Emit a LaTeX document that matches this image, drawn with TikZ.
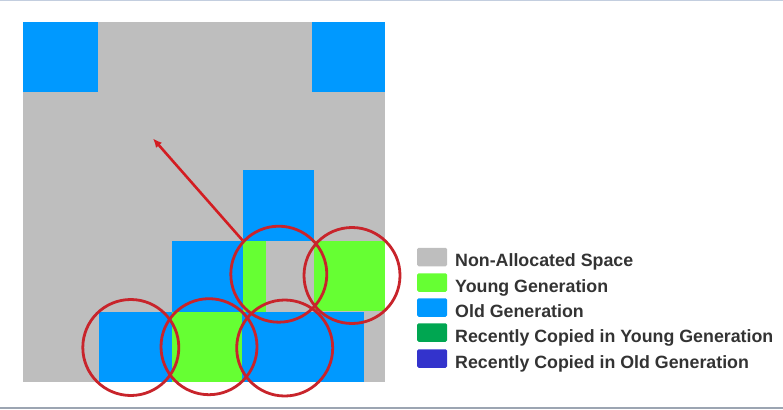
\documentclass[tikz,border=0pt]{standalone}
\usepackage{fontspec}
\setmainfont{Liberation Sans}
\usetikzlibrary{arrows.meta}
\definecolor{gris}{HTML}{BEBEBE}
\definecolor{bleu}{HTML}{0099FF}
\definecolor{vert}{HTML}{66FF33}
\definecolor{vertfonce}{HTML}{00A651}
\definecolor{bleufonce}{HTML}{3333CC}
\definecolor{rouge}{HTML}{C8242B}
\definecolor{bord}{HTML}{C3CEDF}
\begin{document}
\begin{tikzpicture}[x=1pt,y=-1pt]
			% Styles
			\tikzstyle{fleche}=[-{Latex[length=9pt,width=8pt]},line width=2.6pt,color=rouge!80!red]
			\tikzstyle{cercle}=[circle,draw=rouge,line width=2.8pt,minimum size=96pt,inner sep=0pt]
			\tikzstyle{carre}=[rectangle,rounded corners=1.5pt,minimum width=30pt,minimum height=18.5pt,inner sep=0pt]
			\tikzstyle{legende}=[anchor=base west,inner sep=0pt,text=black!80,font=\bfseries\fontsize{17.8}{20}\selectfont]
			% Cadre
			\useasboundingbox (0,0) rectangle (783,409);
			\fill[bord] (0,0) rectangle (783,1.2);
			\fill[bord!80!black] (0,406.5) rectangle (783,409);
			% Memoire
			\fill[gris] (22.7,21.7) rectangle (385,382);
			\fill[bleu] (22.7,21.7) rectangle (98,92);
			\fill[bleu] (312,21.7) rectangle (385,92);
			\fill[bleu] (242.7,170) rectangle (314.3,241);
			\fill[bleu] (171.5,241) rectangle (243,312);
			\fill[vert] (243,241) rectangle (265.5,312);
			\fill[vert] (314,241) rectangle (385,311);
			\fill[bleu] (99,312) rectangle (171.5,382);
			\fill[vert] (171.5,312) rectangle (242,382);
			\fill[bleu] (242,312) rectangle (363.5,382);
			% Cercles
			\node[cercle] (C1) at (130.8,347.5) {};
			\node[cercle] (C2) at (209,346.7) {};
			\node[cercle] (C3) at (284.7,348) {};
			\node[cercle] (C4) at (278.8,274.2) {};
			\node[cercle] (C5) at (352,275.5) {};
			\coordinate (cible) at (153,138.5);
			\draw[fleche] (C4.137) -- (cible);
			% Legende
			\node[carre,fill=gris] (L1) at (432,257) {};
			\node[carre,fill=vert] (L2) at (432,282.5) {};
			\node[carre,fill=bleu] (L3) at (432,307.5) {};
			\node[carre,fill=vertfonce] (L4) at (432,332.5) {};
			\node[carre,fill=bleufonce] (L5) at (432,358.5) {};
			\node[legende] (T1) at (455,266.5) {Non-Allocated Space};
			\node[legende] (T2) at (455,292) {Young Generation};
			\node[legende] (T3) at (455,317) {Old Generation};
			\node[legende] (T4) at (455,342) {Recently Copied in Young Generation};
			\node[legende] (T5) at (455,368) {Recently Copied in Old Generation};
\end{tikzpicture}
\end{document}
